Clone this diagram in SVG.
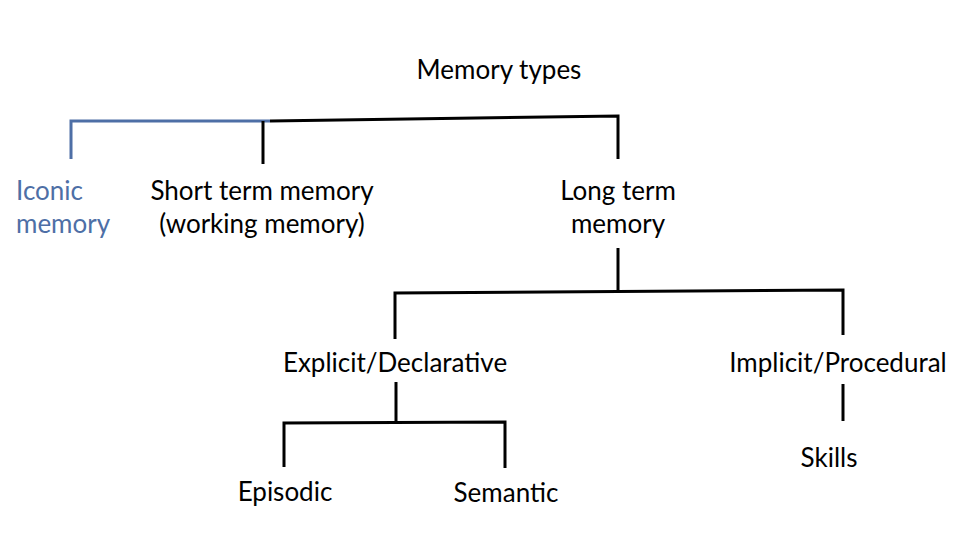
<svg xmlns="http://www.w3.org/2000/svg" width="960" height="540" viewBox="0 0 960 540">
<style>
text{font-family:Lato,"Open Sans","Liberation Sans",sans-serif;font-size:26px;fill:#000;text-anchor:middle}
.blue{fill:#4e6fa6;text-anchor:start}
.c{fill:none;stroke:#000;stroke-width:3}
.cb{fill:none;stroke:#4e6fa6;stroke-width:3}
</style>
<rect width="960" height="540" fill="#fff"/>
<g id="connectors">
<polyline class="cb" points="71,159 71,121 270,121"/>
<polyline class="c" points="270,121 618,116 618,159"/>
<line class="c" x1="263" y1="121" x2="263" y2="164"/>
<line class="c" x1="618" y1="248" x2="618" y2="292"/>
<polyline class="c" points="395,339 395,293 843,290 843,335"/>
<line class="c" x1="396" y1="382" x2="396" y2="423"/>
<polyline class="c" points="284,467 284,423 505,422 505,468"/>
<line class="c" x1="843" y1="384" x2="843" y2="421"/>
</g>
<g id="memory-types"><text x="499" y="79">Memory types</text></g>
<g id="iconic-memory"><text class="blue" x="16" y="200">Iconic</text><text class="blue" x="16" y="233">memory</text></g>
<g id="short-term-memory"><text x="262" y="200">Short term memory</text><text x="262" y="233">(working memory)</text></g>
<g id="long-term-memory"><text x="618" y="200">Long term</text><text x="618" y="233">memory</text></g>
<g id="explicit-declarative"><text x="395" y="372">Explicit/Declarative</text></g>
<g id="implicit-procedural"><text x="838" y="372">Implicit/Procedural</text></g>
<g id="skills"><text x="829" y="467">Skills</text></g>
<g id="episodic"><text x="285" y="501">Episodic</text></g>
<g id="semantic"><text x="506" y="502">Semantic</text></g>
</svg>
